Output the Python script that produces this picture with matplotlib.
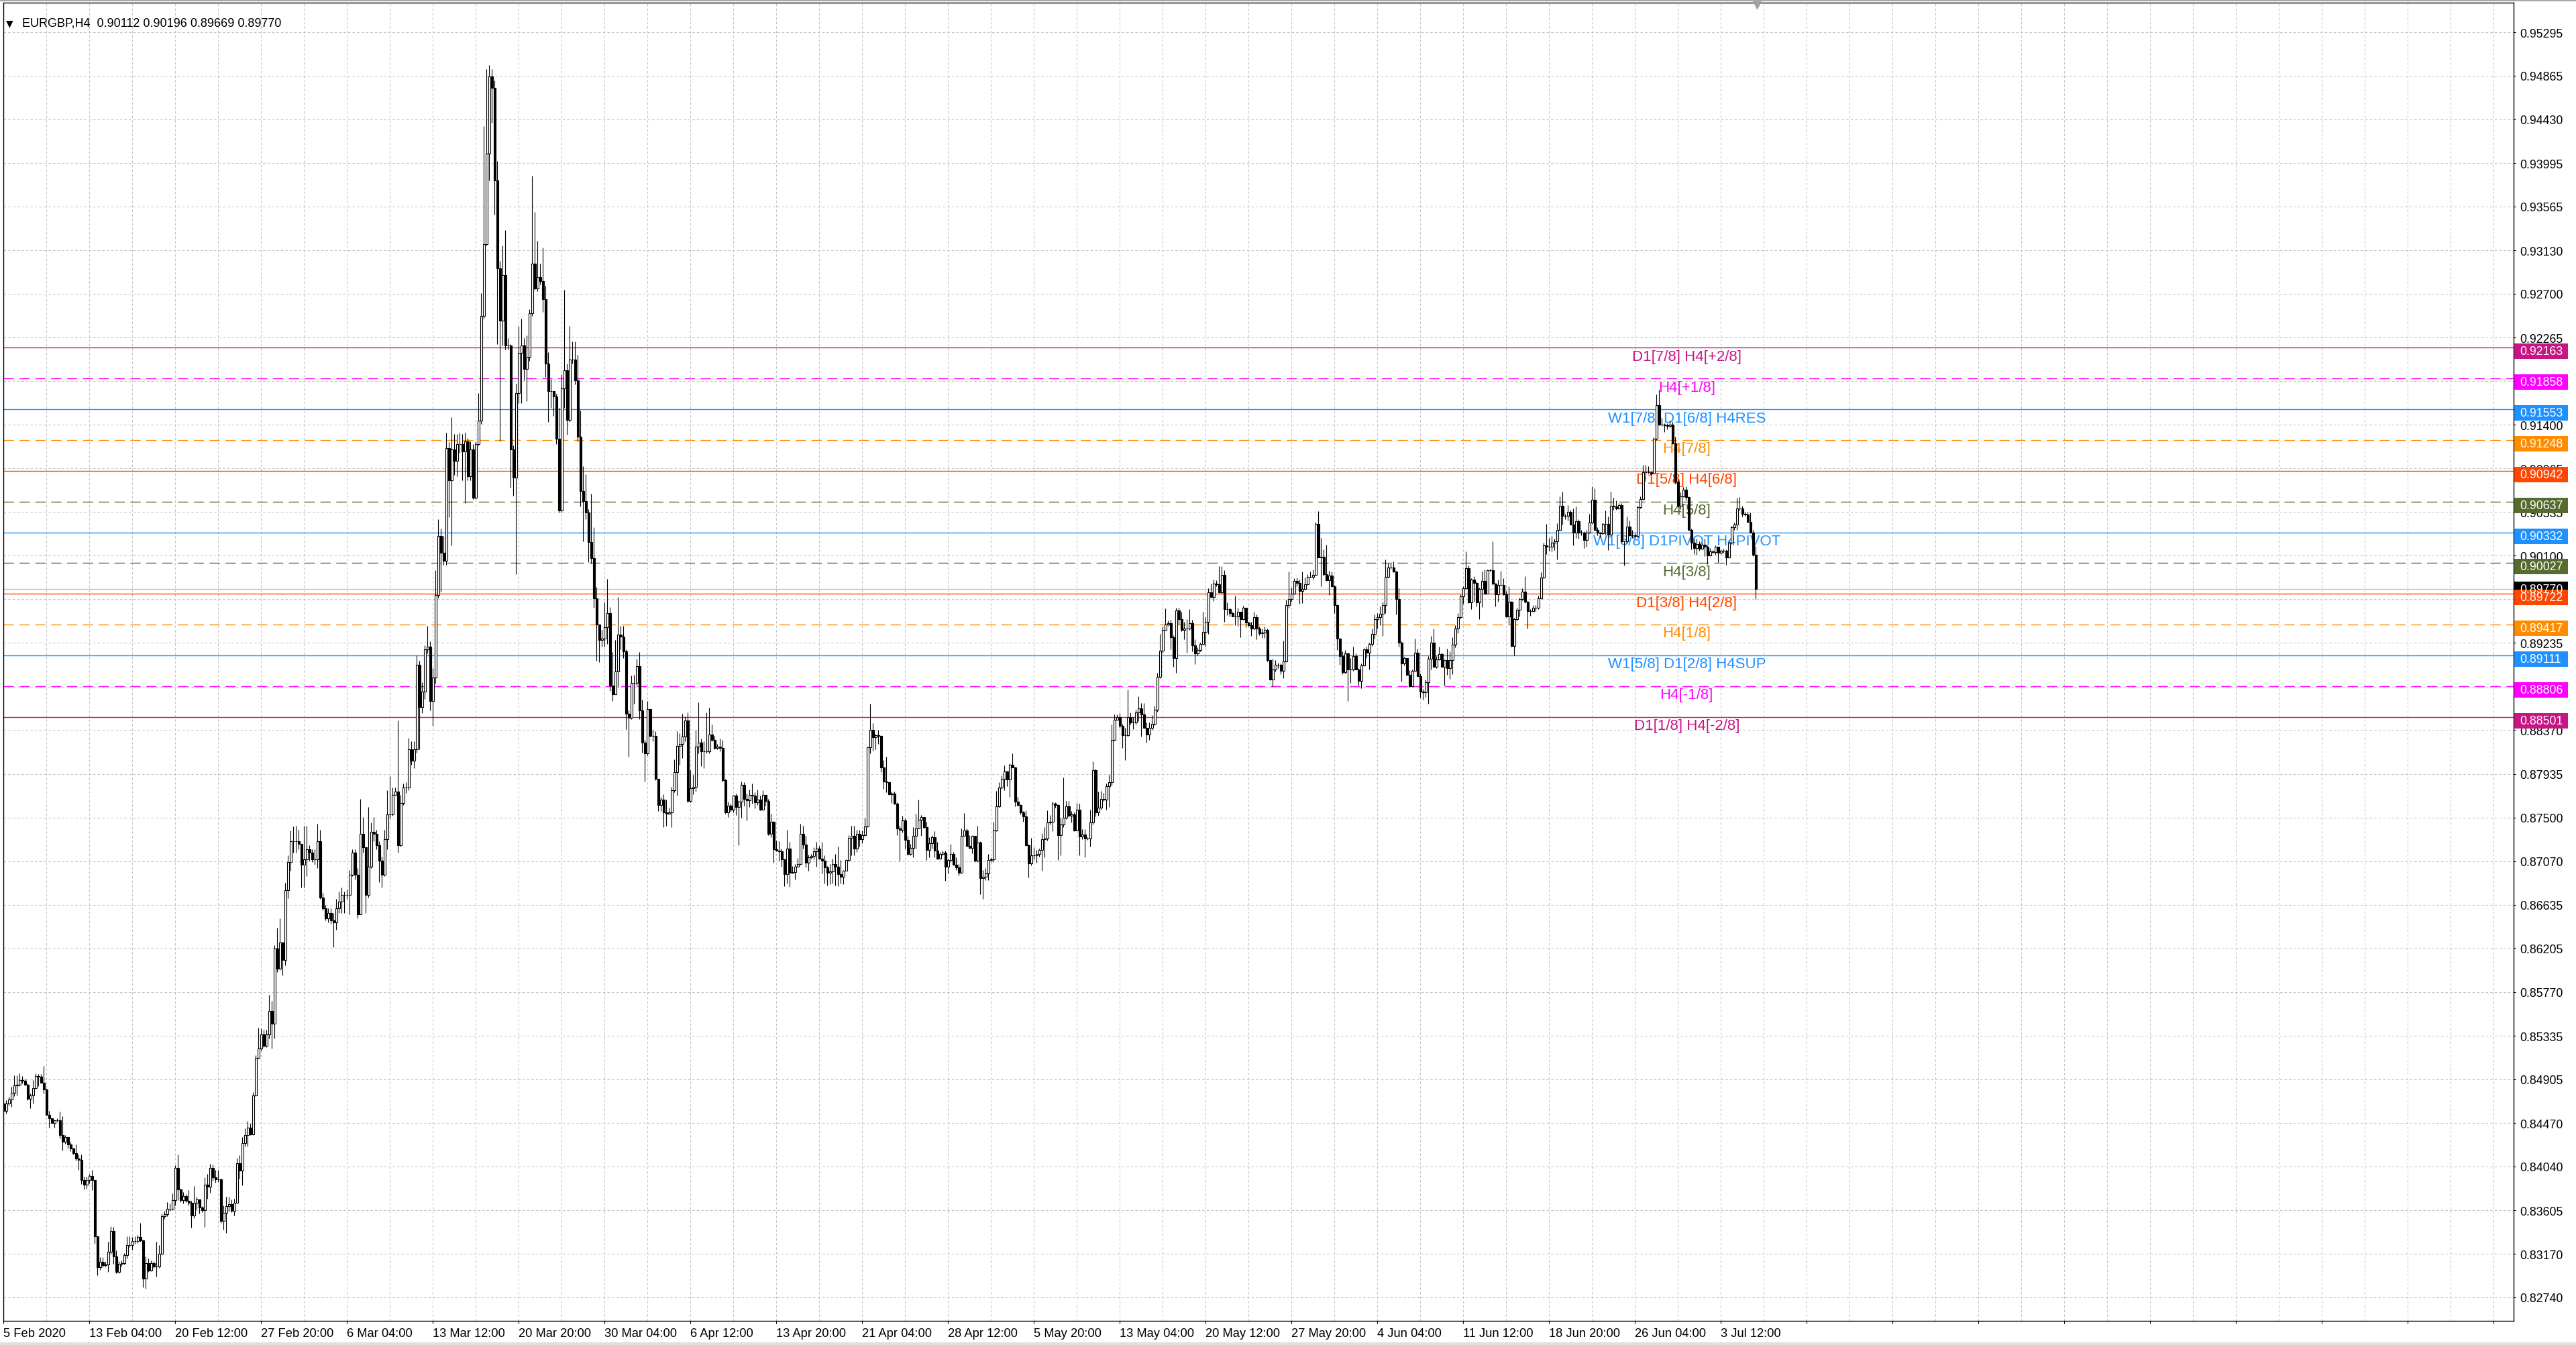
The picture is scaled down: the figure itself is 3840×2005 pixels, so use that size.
import numpy as np
import matplotlib
matplotlib.use("Agg")
import matplotlib.pyplot as plt
from matplotlib import font_manager
from matplotlib.patches import Rectangle
from matplotlib.transforms import blended_transform_factory

# EURGBP H4 candles (open = previous close)
header = "EURGBP,H4  0.90112 0.90196 0.89669 0.89770"
first_open = 0.84664

closes = [
    0.84591, 0.84664, 0.84703, 0.84770, 0.84846, 0.84852, 0.84895, 0.84889, 0.84852, 0.84713,
    0.84746, 0.84819, 0.84935, 0.84928, 0.84872, 0.84806, 0.84554, 0.84515, 0.84472, 0.84498,
    0.84498, 0.84349, 0.84283, 0.84333, 0.84257, 0.84217, 0.84174, 0.84118, 0.84108, 0.83902,
    0.83859, 0.83902, 0.83942, 0.83902, 0.83346, 0.83042, 0.83091, 0.83058, 0.83068, 0.83191,
    0.83399, 0.83148, 0.82992, 0.83075, 0.83082, 0.83158, 0.83257, 0.83257, 0.83297, 0.83300,
    0.83340, 0.83307, 0.82926, 0.83082, 0.83009, 0.83082, 0.83048, 0.83048, 0.83174, 0.83545,
    0.83565, 0.83621, 0.83621, 0.83704, 0.84028, 0.83813, 0.83704, 0.83743, 0.83697, 0.83677,
    0.83555, 0.83677, 0.83710, 0.83631, 0.83604, 0.83859, 0.83836, 0.84025, 0.83929, 0.83909,
    0.83909, 0.83498, 0.83578, 0.83644, 0.83664, 0.83598, 0.83680, 0.84074, 0.83995, 0.84273,
    0.84349, 0.84422, 0.84356, 0.84743, 0.85117, 0.85210, 0.85352, 0.85236, 0.85349, 0.85584,
    0.85458, 0.86203, 0.86004, 0.86259, 0.86087, 0.86782, 0.87063, 0.87269, 0.87269,
    0.87265, 0.87242, 0.87036, 0.87090, 0.87189, 0.87151, 0.87090, 0.87090, 0.87265, 0.86708, 0.86602,
    0.86502, 0.86556, 0.86480, 0.86464, 0.86602, 0.86670, 0.86731, 0.86731, 0.86731, 0.86937,
    0.87151, 0.86937, 0.86541, 0.87342, 0.87204, 0.86731, 0.87014, 0.87357, 0.87342, 0.87227,
    0.87075, 0.86937, 0.87288, 0.87532, 0.87532, 0.87723, 0.87761, 0.87227, 0.87647, 0.87799,
    0.87799, 0.88181, 0.88066, 0.88181, 0.89020, 0.88600, 0.88753, 0.89173, 0.89195, 0.88661,
    0.88890, 0.89707, 0.90294, 0.90126, 0.90050, 0.91171, 0.90851, 0.91156, 0.91042, 0.91209,
    0.91209, 0.91133, 0.91232, 0.90889, 0.91156, 0.90675, 0.91209, 0.91438, 0.92476, 0.93193,
    0.94093, 0.94856, 0.94742, 0.93826, 0.92949, 0.92430, 0.92888, 0.92186, 0.92186, 0.91156,
    0.90874, 0.91713, 0.92110,
    0.92185, 0.91953, 0.92075, 0.92505, 0.93001, 0.92753, 0.92863,
    0.92825, 0.92643, 0.92009, 0.91733, 0.91733, 0.91678, 0.91264, 0.90547, 0.91760, 0.91942,
    0.91446, 0.92047, 0.92047, 0.91843, 0.91281, 0.90740, 0.90641, 0.90531, 0.90233, 0.90078,
    0.89676, 0.89417, 0.89262, 0.89279, 0.89389, 0.89527, 0.88810, 0.88727, 0.88948, 0.89317,
    0.89295, 0.89152, 0.88534, 0.88490, 0.88837, 0.88837, 0.89003, 0.88562, 0.88247, 0.88137,
    0.88578, 0.88314, 0.88314, 0.87883, 0.87624, 0.87679, 0.87552, 0.87541, 0.87552, 0.87773,
    0.87955, 0.88214, 0.88231, 0.88303, 0.88468, 0.87663, 0.87790, 0.87806, 0.88203, 0.88247,
    0.88159, 0.88159, 0.88159, 0.88325, 0.88270, 0.88192, 0.88203, 0.88192, 0.87872,
    0.87555, 0.87617, 0.87577, 0.87717, 0.87606, 0.87657, 0.87829, 0.87684, 0.87673, 0.87728, 0.87717,
    0.87651, 0.87679, 0.87577, 0.87728, 0.87666, 0.87339, 0.87461, 0.87190, 0.87172, 0.87167,
    0.87087, 0.86938, 0.87194, 0.86954, 0.86960, 0.87016, 0.87043, 0.87339, 0.87234, 0.87056,
    0.87110, 0.87123, 0.87167, 0.87194, 0.87094, 0.87072, 0.87005, 0.86954, 0.86967, 0.87038,
    0.87012, 0.86938, 0.86916, 0.86976, 0.87083, 0.87301, 0.87317, 0.87194, 0.87339, 0.87288,
    0.87328, 0.87412, 0.88200, 0.88374, 0.88296, 0.88318, 0.88312, 0.88000, 0.87862, 0.87851,
    0.87733, 0.87740, 0.87639, 0.87395, 0.87377, 0.87472, 0.87279, 0.87139, 0.87199, 0.87323,
    0.87395, 0.87479, 0.87506, 0.87406, 0.87183, 0.87250, 0.87310, 0.87176, 0.87094, 0.87139,
    0.87154, 0.87012, 0.87078, 0.87139, 0.87034, 0.87005, 0.86954, 0.87323, 0.87372, 0.87221,
    0.87199, 0.87317, 0.87072, 0.87256, 0.86900, 0.86916, 0.86949, 0.87083, 0.87087,
    0.87372, 0.87615, 0.87799, 0.87886, 0.87957, 0.87878, 0.88028, 0.88001, 0.87660, 0.87623, 0.87550,
    0.87510, 0.87229, 0.87045, 0.87129, 0.87129, 0.87142, 0.87182, 0.87287, 0.87292, 0.87450,
    0.87458, 0.87642, 0.87623, 0.87326, 0.87431, 0.87502, 0.87615, 0.87523, 0.87536, 0.87371,
    0.87581, 0.87313, 0.87334, 0.87292, 0.87292, 0.87450, 0.87975, 0.87550, 0.87597, 0.87686,
    0.87681, 0.87812, 0.87852, 0.88272, 0.88474, 0.88495, 0.88411, 0.88317, 0.88317, 0.88501,
    0.88448, 0.88448, 0.88543, 0.88587, 0.88522, 0.88390, 0.88325, 0.88390, 0.88430, 0.88569,
    0.88895, 0.89157, 0.89367, 0.89420, 0.89428, 0.89289, 0.89086, 0.89559, 0.89473, 0.89362,
    0.89375, 0.89375, 0.89428, 0.89210, 0.89131, 0.89165, 0.89226, 0.89341, 0.89441, 0.89735,
    0.89691, 0.89822, 0.89814, 0.89735, 0.89909, 0.89567, 0.89567, 0.89533, 0.89499, 0.89494,
    0.89541, 0.89467, 0.89586, 0.89436, 0.89410, 0.89375, 0.89488, 0.89375, 0.89331,
    0.89340, 0.89362, 0.89063, 0.88874, 0.88969, 0.89018, 0.89018, 0.88956, 0.89052, 0.89613, 0.89667,
    0.89724, 0.89851, 0.89829, 0.89747, 0.89769, 0.89818, 0.89889, 0.89889, 0.89911, 0.90413,
    0.90084, 0.90089, 0.89918, 0.89858, 0.89906, 0.89795, 0.89607, 0.89280, 0.89107, 0.88941,
    0.89134, 0.88974, 0.88969, 0.89103, 0.88974, 0.88858, 0.89014, 0.89169, 0.89140, 0.89223,
    0.89325, 0.89473, 0.89489, 0.89525, 0.89613, 0.89889, 0.89984, 0.89984, 0.89946, 0.89667,
    0.89240, 0.89029, 0.89085, 0.88918, 0.88807, 0.88956, 0.89140, 0.88907, 0.88752, 0.88747,
    0.88845, 0.89080, 0.89240, 0.88996, 0.89074, 0.89125, 0.89000, 0.89067, 0.88985, 0.89063,
    0.89214, 0.89374, 0.89489, 0.89696, 0.89778, 0.89977, 0.89636, 0.89866, 0.89829, 0.89636,
    0.89773, 0.89851, 0.89724, 0.89955, 0.89955, 0.89822, 0.89718, 0.89813, 0.89813, 0.89718,
    0.89496, 0.89644, 0.89207, 0.89467, 0.89562, 0.89667, 0.89740, 0.89640, 0.89547,
    0.89547, 0.89581, 0.89581, 0.89679, 0.89884, 0.90200, 0.90187, 0.90187, 0.90227, 0.90240, 0.90358,
    0.90596, 0.90495, 0.90495, 0.90538, 0.90411, 0.90327, 0.90443, 0.90327, 0.90332, 0.90258,
    0.90327, 0.90432, 0.90654, 0.90358, 0.90327, 0.90319, 0.90416, 0.90416, 0.90306, 0.90596,
    0.90590, 0.90569, 0.90601, 0.90240, 0.90240, 0.90390, 0.90300, 0.90300, 0.90293, 0.90582,
    0.90661, 0.90925, 0.90925, 0.90925, 0.90917, 0.91259, 0.91597, 0.91399, 0.91399, 0.91391,
    0.91386, 0.91399, 0.91215, 0.90833, 0.90596, 0.90688, 0.90754, 0.90680, 0.90358, 0.90227,
    0.90179, 0.90214, 0.90169, 0.90206, 0.90187, 0.90100, 0.90143, 0.90135, 0.90187, 0.90127,
    0.90148, 0.90148, 0.90082, 0.90227, 0.90385, 0.90411, 0.90569, 0.90569, 0.90517, 0.90511,
    0.90438, 0.90327, 0.90108, 0.89770,
]

highs = [
    0.84680, 0.84697, 0.84730, 0.84829, 0.84945, 0.84945, 0.84966, 0.84935, 0.84909, 0.84862,
    0.84763, 0.84895, 0.84966, 0.84960, 0.84954, 0.85038, 0.84812, 0.84591, 0.84515, 0.84505,
    0.84515, 0.84581, 0.84538, 0.84349, 0.84333, 0.84283, 0.84227, 0.84260, 0.84161, 0.84161,
    0.83935, 0.83935, 0.83968, 0.84002, 0.83902, 0.83346, 0.83141, 0.83141, 0.83091, 0.83290,
    0.83446, 0.83439, 0.83207, 0.83101, 0.83108, 0.83181, 0.83346, 0.83346, 0.83340, 0.83346,
    0.83356, 0.83479, 0.83313, 0.83148, 0.83124, 0.83108, 0.83101, 0.83290, 0.83257, 0.83571,
    0.83598, 0.83687, 0.83671, 0.83770, 0.84051, 0.84161, 0.83820, 0.83786, 0.83763, 0.83803,
    0.83697, 0.83846, 0.83737, 0.83671, 0.83644, 0.83929, 0.83968, 0.84068, 0.84061, 0.84002,
    0.84002, 0.83919, 0.83654, 0.83737, 0.83737, 0.83710, 0.83720, 0.84124, 0.84151, 0.84333,
    0.84415, 0.84488, 0.84465, 0.84779, 0.85143, 0.85415, 0.85408, 0.85398, 0.85398, 0.85739,
    0.85683, 0.86236, 0.86408, 0.86501, 0.86269, 0.86855, 0.87130, 0.87371, 0.87411,
    0.87418, 0.87380, 0.87227, 0.87418, 0.87418, 0.87227, 0.87189, 0.87189, 0.87441, 0.87380, 0.86754,
    0.86632, 0.86602, 0.86602, 0.86556, 0.86693, 0.86769, 0.86808, 0.86769, 0.86785, 0.86983,
    0.87189, 0.87189, 0.86998, 0.87685, 0.87509, 0.87204, 0.87609, 0.87456, 0.87509, 0.87380,
    0.87265, 0.87113, 0.87380, 0.87776, 0.87914, 0.87799, 0.87799, 0.88463, 0.87723, 0.87837,
    0.87853, 0.88295, 0.88257, 0.88257, 0.89111, 0.89058, 0.88844, 0.89211, 0.89401, 0.89249,
    0.88982, 0.89958, 0.90462, 0.90370, 0.90294, 0.91324, 0.91225, 0.91476, 0.91309, 0.91309,
    0.91324, 0.91309, 0.91324, 0.91270, 0.91232, 0.91209, 0.91232, 0.91713, 0.92705, 0.94360,
    0.94932, 0.94971, 0.94932, 0.94818, 0.94017, 0.93025, 0.93178, 0.93330, 0.92262, 0.92201,
    0.91194, 0.91805, 0.92377,
    0.92450, 0.92257, 0.92284, 0.92549, 0.93873, 0.93509, 0.93222,
    0.93001, 0.93156, 0.92781, 0.92119, 0.91854, 0.91705, 0.91705, 0.91567, 0.91898, 0.92737,
    0.92009, 0.92378, 0.92229, 0.92229, 0.92091, 0.91540, 0.90988, 0.90906, 0.90564, 0.90713,
    0.90382, 0.89792, 0.89417, 0.89361, 0.89637, 0.89869, 0.89593, 0.89141, 0.89262, 0.89692,
    0.89406, 0.89406, 0.89168, 0.88562, 0.88909, 0.88920, 0.89075, 0.89141, 0.88672, 0.88269,
    0.88655, 0.88578, 0.88369, 0.88358, 0.87883, 0.87707, 0.87734, 0.87679, 0.87597, 0.87806,
    0.88082, 0.88358, 0.88341, 0.88534, 0.88507, 0.88545, 0.87972, 0.87927, 0.88369, 0.88644,
    0.88286, 0.88258, 0.88545, 0.88589, 0.88424, 0.88314, 0.88231, 0.88286, 0.88269,
    0.87884, 0.87662, 0.87639, 0.87728, 0.87740, 0.87673, 0.87858, 0.87851, 0.87740, 0.87777, 0.87840,
    0.87755, 0.87777, 0.87717, 0.87773, 0.87711, 0.87684, 0.87539, 0.87466, 0.87272, 0.87265,
    0.87194, 0.87094, 0.87377, 0.87257, 0.87021, 0.87038, 0.87101, 0.87443, 0.87417, 0.87317,
    0.87132, 0.87139, 0.87205, 0.87261, 0.87221, 0.87261, 0.87127, 0.87021, 0.87043, 0.87094,
    0.87139, 0.87212, 0.87083, 0.86983, 0.87087, 0.87328, 0.87417, 0.87417, 0.87383, 0.87377,
    0.87372, 0.87501, 0.88207, 0.88630, 0.88436, 0.88329, 0.88374, 0.88318, 0.88073, 0.88107,
    0.87862, 0.87762, 0.87762, 0.87651, 0.87417, 0.87517, 0.87495, 0.87317, 0.87239, 0.87406,
    0.87539, 0.87679, 0.87528, 0.87488, 0.87461, 0.87305, 0.87328, 0.87368, 0.87261, 0.87161,
    0.87176, 0.87176, 0.87094, 0.87239, 0.87161, 0.87110, 0.87038, 0.87390, 0.87546, 0.87390,
    0.87328, 0.87328, 0.87272, 0.87417, 0.87265, 0.86983, 0.86998, 0.87139, 0.87105,
    0.87457, 0.87765, 0.87852, 0.87917, 0.88022, 0.87965, 0.88036, 0.88141, 0.88009, 0.87707, 0.87634,
    0.87563, 0.87576, 0.87240, 0.87300, 0.87208, 0.87182, 0.87195, 0.87345, 0.87405, 0.87571,
    0.87529, 0.87660, 0.87655, 0.87634, 0.87502, 0.87896, 0.87668, 0.87668, 0.87563, 0.87550,
    0.87649, 0.87642, 0.87387, 0.87387, 0.87308, 0.87581, 0.88062, 0.87983, 0.87760, 0.87765,
    0.87747, 0.87839, 0.87923, 0.88422, 0.88522, 0.88527, 0.88535, 0.88430, 0.88390, 0.88771,
    0.88543, 0.88495, 0.88574, 0.88705, 0.88640, 0.88640, 0.88443, 0.88448, 0.88516, 0.88614,
    0.88937, 0.89323, 0.89394, 0.89578, 0.89454, 0.89462, 0.89310, 0.89586, 0.89586, 0.89546,
    0.89441, 0.89467, 0.89572, 0.89462, 0.89270, 0.89191, 0.89236, 0.89546, 0.89488, 0.89777,
    0.89822, 0.89861, 0.89856, 0.89993, 0.89993, 0.89953, 0.89638, 0.89586, 0.89546, 0.89704,
    0.89586, 0.89546, 0.89604, 0.89454, 0.89446, 0.89446, 0.89546, 0.89520, 0.89394,
    0.89374, 0.89396, 0.89374, 0.89074, 0.89080, 0.89063, 0.89036, 0.89029, 0.89258, 0.89662, 0.89940,
    0.89784, 0.89873, 0.89884, 0.89862, 0.89940, 0.89884, 0.89918, 0.89940, 0.89962, 0.90435,
    0.90539, 0.90273, 0.90162, 0.90206, 0.89951, 0.89940, 0.89807, 0.89618, 0.89285, 0.89151,
    0.89163, 0.89140, 0.89085, 0.89196, 0.89129, 0.88985, 0.89029, 0.89185, 0.89196, 0.89240,
    0.89378, 0.89518, 0.89529, 0.89596, 0.89640, 0.90062, 0.90022, 0.90022, 0.90040, 0.89951,
    0.89778, 0.89251, 0.89096, 0.89063, 0.88963, 0.88974, 0.89280, 0.89174, 0.88929, 0.88778,
    0.88874, 0.89107, 0.89307, 0.89378, 0.89103, 0.89196, 0.89140, 0.89074, 0.89174, 0.89151,
    0.89289, 0.89407, 0.89529, 0.89718, 0.89795, 0.90140, 0.90006, 0.89873, 0.89895, 0.89844,
    0.89784, 0.89940, 0.89962, 0.89962, 0.89969, 0.90244, 0.89829, 0.89862, 0.89951, 0.89873,
    0.89751, 0.89795, 0.89651, 0.89485, 0.89584, 0.89684, 0.89778, 0.89895, 0.89651,
    0.89568, 0.89608, 0.89608, 0.89700, 0.89937, 0.90227, 0.90416, 0.90279, 0.90293, 0.90266, 0.90424,
    0.90688, 0.90733, 0.90517, 0.90601, 0.90556, 0.90569, 0.90590, 0.90464, 0.90353, 0.90345,
    0.90358, 0.90517, 0.90785, 0.90767, 0.90385, 0.90337, 0.90432, 0.90548, 0.90490, 0.90733,
    0.90675, 0.90648, 0.90622, 0.90622, 0.90248, 0.90490, 0.90451, 0.90358, 0.90319, 0.90596,
    0.90688, 0.91004, 0.91004, 0.90991, 0.90938, 0.91275, 0.91702, 0.91749, 0.91465, 0.91412,
    0.91412, 0.91439, 0.91425, 0.91281, 0.90864, 0.90727, 0.90780, 0.90785, 0.90688, 0.90372,
    0.90266, 0.90266, 0.90240, 0.90227, 0.90266, 0.90200, 0.90174, 0.90153, 0.90200, 0.90187,
    0.90161, 0.90169, 0.90161, 0.90258, 0.90398, 0.90432, 0.90675, 0.90680, 0.90596, 0.90538,
    0.90538, 0.90530, 0.90358, 0.90196,
]

lows = [
    0.84571, 0.84564, 0.84647, 0.84631, 0.84736, 0.84746, 0.84836, 0.84862, 0.84842, 0.84697,
    0.84614, 0.84664, 0.84812, 0.84836, 0.84862, 0.84763, 0.84548, 0.84422, 0.84465, 0.84425,
    0.84482, 0.84316, 0.84200, 0.84266, 0.84217, 0.84194, 0.84161, 0.84101, 0.84002, 0.83863,
    0.83813, 0.83820, 0.83869, 0.83803, 0.83273, 0.82959, 0.83015, 0.83042, 0.83048, 0.82992,
    0.83174, 0.83075, 0.82982, 0.82982, 0.83048, 0.83068, 0.83124, 0.83240, 0.83214, 0.83273,
    0.83280, 0.83290, 0.82843, 0.82827, 0.82992, 0.83002, 0.83035, 0.82949, 0.83035, 0.83168,
    0.83522, 0.83545, 0.83598, 0.83604, 0.83654, 0.83704, 0.83687, 0.83671, 0.83684, 0.83654,
    0.83429, 0.83528, 0.83611, 0.83571, 0.83588, 0.83439, 0.83720, 0.83777, 0.83896, 0.83876,
    0.83886, 0.83479, 0.83412, 0.83379, 0.83598, 0.83588, 0.83555, 0.83671, 0.83919, 0.83853,
    0.84240, 0.84240, 0.84349, 0.84349, 0.84736, 0.85110, 0.85193, 0.85226, 0.85226, 0.85309,
    0.85210, 0.85309, 0.85971, 0.85988, 0.85938, 0.86037, 0.86699, 0.86974, 0.87153,
    0.87151, 0.87189, 0.86808, 0.86808, 0.86922, 0.87075, 0.87059, 0.87036, 0.86998, 0.86693, 0.86579,
    0.86480, 0.86464, 0.86449, 0.86212, 0.86388, 0.86556, 0.86556, 0.86556, 0.86693, 0.86541,
    0.86922, 0.86884, 0.86502, 0.86556, 0.87151, 0.86556, 0.86708, 0.86998, 0.87265, 0.87189,
    0.86861, 0.86808, 0.86922, 0.87189, 0.87494, 0.87517, 0.87723, 0.87151, 0.87212, 0.87624,
    0.87746, 0.87776, 0.88028, 0.87990, 0.88143, 0.88181, 0.88539, 0.88677, 0.89134, 0.88562,
    0.88410, 0.88829, 0.89684, 0.89745, 0.90012, 0.90012, 0.90485, 0.90202, 0.90904, 0.90889,
    0.91118, 0.90851, 0.90622, 0.90851, 0.90851, 0.90660, 0.90660, 0.91194, 0.91408, 0.92453,
    0.93178, 0.93826, 0.94398, 0.93483, 0.92201, 0.91232, 0.92186, 0.92148, 0.92148, 0.90775,
    0.90698, 0.89913, 0.91614,
    0.91612, 0.91843, 0.91634, 0.92036, 0.92477, 0.92737, 0.92726,
    0.92792, 0.92516, 0.91871, 0.91430, 0.91567, 0.91485, 0.91209, 0.90531, 0.90531, 0.91567,
    0.91303, 0.91430, 0.92009, 0.91799, 0.91236, 0.90586, 0.90244, 0.90464, 0.90034, 0.90023,
    0.89582, 0.89058, 0.89042, 0.89196, 0.89196, 0.89224, 0.88755, 0.88655, 0.88865, 0.88799,
    0.89168, 0.89086, 0.88380, 0.88104, 0.88479, 0.88633, 0.88810, 0.88479, 0.88148, 0.87861,
    0.88121, 0.88303, 0.88258, 0.87872, 0.87569, 0.87569, 0.87404, 0.87420, 0.87530, 0.87404,
    0.87751, 0.87718, 0.88027, 0.88093, 0.88258, 0.87652, 0.87652, 0.87734, 0.87762, 0.88137,
    0.88010, 0.87994, 0.88137, 0.88137, 0.88258, 0.88176, 0.88176, 0.88159, 0.87861,
    0.87539, 0.87506, 0.87561, 0.87550, 0.87528, 0.87228, 0.87501, 0.87617, 0.87472, 0.87606, 0.87639,
    0.87595, 0.87628, 0.87573, 0.87644, 0.87617, 0.87328, 0.87310, 0.87056, 0.87167, 0.87072,
    0.87016, 0.86820, 0.86849, 0.86811, 0.86945, 0.86887, 0.87012, 0.87034, 0.87194, 0.87005,
    0.86976, 0.87094, 0.87087, 0.87016, 0.87087, 0.86949, 0.86849, 0.86827, 0.86838, 0.86849,
    0.86827, 0.86820, 0.86849, 0.86842, 0.86972, 0.87065, 0.87127, 0.87127, 0.87161, 0.87216,
    0.87250, 0.87317, 0.87406, 0.88140, 0.88163, 0.88178, 0.88229, 0.87955, 0.87784, 0.87751,
    0.87728, 0.87644, 0.87635, 0.87328, 0.87072, 0.87354, 0.87194, 0.87127, 0.87127, 0.87110,
    0.87194, 0.87390, 0.87323, 0.87395, 0.87083, 0.87105, 0.87194, 0.87105, 0.87087, 0.87087,
    0.87127, 0.86871, 0.86949, 0.87061, 0.87027, 0.86983, 0.86927, 0.86949, 0.87317, 0.87216,
    0.87194, 0.87150, 0.87061, 0.87061, 0.86738, 0.86693, 0.86883, 0.86883, 0.87061,
    0.87061, 0.87366, 0.87602, 0.87786, 0.87773, 0.87812, 0.87707, 0.87996, 0.87615, 0.87615, 0.87536,
    0.87458, 0.87221, 0.86906, 0.87029, 0.87090, 0.87056, 0.87116, 0.86977, 0.87108, 0.87274,
    0.87431, 0.87366, 0.87602, 0.87082, 0.87129, 0.87405, 0.87484, 0.87510, 0.87450, 0.87366,
    0.87405, 0.87124, 0.87287, 0.87108, 0.87282, 0.87213, 0.87431, 0.87510, 0.87523, 0.87581,
    0.87668, 0.87581, 0.87607, 0.87818, 0.88264, 0.88469, 0.88390, 0.88193, 0.88070, 0.88306,
    0.88422, 0.88377, 0.88422, 0.88456, 0.88306, 0.88385, 0.88246, 0.88272, 0.88369, 0.88417,
    0.88553, 0.88884, 0.89139, 0.89362, 0.89402, 0.89173, 0.89000, 0.88937, 0.89415, 0.89349,
    0.89270, 0.89139, 0.89367, 0.89152, 0.89021, 0.89113, 0.89152, 0.89218, 0.89199, 0.89323,
    0.89683, 0.89651, 0.89796, 0.89730, 0.89725, 0.89446, 0.89507, 0.89494, 0.89494, 0.89410,
    0.89402, 0.89289, 0.89462, 0.89388, 0.89394, 0.89304, 0.89362, 0.89270, 0.89310,
    0.89285, 0.89285, 0.89052, 0.88863, 0.88801, 0.88952, 0.88985, 0.88925, 0.88885, 0.89045, 0.89584,
    0.89640, 0.89718, 0.89795, 0.89622, 0.89629, 0.89762, 0.89813, 0.89880, 0.89862, 0.89906,
    0.90080, 0.89795, 0.89906, 0.89851, 0.89707, 0.89791, 0.89533, 0.89163, 0.89018, 0.88925,
    0.88929, 0.88659, 0.88841, 0.88956, 0.88969, 0.88814, 0.88785, 0.89007, 0.89085, 0.88969,
    0.89207, 0.89274, 0.89374, 0.89407, 0.89307, 0.89529, 0.89880, 0.89969, 0.89933, 0.89518,
    0.89196, 0.88852, 0.89014, 0.88912, 0.88801, 0.88801, 0.88952, 0.88903, 0.88690, 0.88674,
    0.88696, 0.88630, 0.88974, 0.88992, 0.88985, 0.89063, 0.88992, 0.88814, 0.88918, 0.88881,
    0.88925, 0.89191, 0.89329, 0.89480, 0.89622, 0.89769, 0.89629, 0.89573, 0.89640, 0.89596,
    0.89473, 0.89591, 0.89718, 0.89724, 0.89946, 0.89807, 0.89600, 0.89640, 0.89800, 0.89711,
    0.89489, 0.89418, 0.89196, 0.89112, 0.89458, 0.89496, 0.89658, 0.89629, 0.89378,
    0.89502, 0.89542, 0.89547, 0.89568, 0.89673, 0.89879, 0.90116, 0.90148, 0.90142, 0.90153, 0.90063,
    0.90353, 0.90406, 0.90464, 0.90451, 0.90406, 0.90200, 0.90279, 0.90266, 0.90300, 0.90179,
    0.90187, 0.90319, 0.90416, 0.90353, 0.90300, 0.90285, 0.90306, 0.90306, 0.90153, 0.90300,
    0.90556, 0.90556, 0.90564, 0.90232, 0.90003, 0.90221, 0.90293, 0.90279, 0.90279, 0.90285,
    0.90569, 0.90654, 0.90899, 0.90912, 0.90899, 0.90912, 0.91249, 0.91391, 0.91386, 0.91328,
    0.91354, 0.91373, 0.91207, 0.90812, 0.90582, 0.90564, 0.90680, 0.90648, 0.90353, 0.90161,
    0.90116, 0.90108, 0.90148, 0.90161, 0.90095, 0.90016, 0.90095, 0.90121, 0.90108, 0.90037,
    0.90116, 0.90127, 0.90011, 0.90074, 0.90214, 0.90358, 0.90358, 0.90548, 0.90490, 0.90495,
    0.90432, 0.90327, 0.90095, 0.89669,
]

time_labels = ["5 Feb 2020", "13 Feb 04:00", "20 Feb 12:00", "27 Feb 20:00", "6 Mar 04:00",
               "13 Mar 12:00", "20 Mar 20:00", "30 Mar 04:00", "6 Apr 12:00", "13 Apr 20:00",
               "21 Apr 04:00", "28 Apr 12:00", "5 May 20:00", "13 May 04:00", "20 May 12:00",
               "27 May 20:00", "4 Jun 04:00", "11 Jun 12:00", "18 Jun 20:00", "26 Jun 04:00",
               "3 Jul 12:00"]

price_ticks = [0.95295, 0.94865, 0.94430, 0.93995, 0.93565, 0.93130, 0.92700, 0.92265,
               0.91835, 0.91400, 0.90965, 0.90535, 0.90100, 0.89670, 0.89235, 0.88800,
               0.88370, 0.87935, 0.87500, 0.87070, 0.86635, 0.86205, 0.85770, 0.85335,
               0.84905, 0.84470, 0.84040, 0.83605, 0.83170, 0.82740]

# Murrey-math style levels drawn by the indicator
level_prices = [0.92163, 0.91858, 0.91553, 0.91248, 0.90942, 0.90637, 0.90332,
                0.90027, 0.89722, 0.89417, 0.89111, 0.88806, 0.88501]
level_names = ["D1[7/8] H4[+2/8]", "H4[+1/8]", "W1[7/8] D1[6/8] H4RES", "H4[7/8]",
               "D1[5/8] H4[6/8]", "H4[5/8]", "W1[6/8] D1PIVOT H4PIVOT", "H4[3/8]",
               "D1[3/8] H4[2/8]", "H4[1/8]", "W1[5/8] D1[2/8] H4SUP", "H4[-1/8]",
               "D1[1/8] H4[-2/8]"]
level_colors = ["#C71585", "#FF00FF", "#1E90FF", "#FF8C00", "#FF4500", "#556B2F", "#1E90FF",
                "#556B2F", "#FF4500", "#FF8C00", "#1E90FF", "#FF00FF", "#C71585"]
level_dashed = [False, True, False, True, False, True, False, True, False, True, False, True, False]
current_price = 0.89770

# ---- fonts ----
installed = {f.name for f in font_manager.fontManager.ttflist}
if "Liberation Sans Narrow" in installed:
    scale_font, y_size, x_size, head_size = "Liberation Sans Narrow", 15.5, 16, 16
else:
    scale_font, y_size, x_size, head_size = "Liberation Sans", 12.8, 13.2, 13
label_font = "Liberation Sans"
plt.rcParams["lines.scale_dashes"] = False

# ---- figure / axes in pixel terms of the screenshot ----
W, H = 3840, 2006
left_px, right_px, top_px, bottom_px = 5, 3747, 5, 1970
bar_px, first_bar_px = 4.0, 5.3

fig = plt.figure(figsize=(W / 100, H / 100), dpi=100, facecolor="white")
ax = fig.add_axes([left_px / W, 1 - bottom_px / H, (right_px - left_px) / W, (bottom_px - top_px) / H])
ax.set_facecolor("white")
x0 = (left_px - first_bar_px) / bar_px
x1 = (right_px - first_bar_px) / bar_px
ax.set_xlim(x0, x1)
ax.set_ylim(0.82507, 0.95588)
y_per_px = (0.95588 - 0.82507) / (bottom_px - top_px)

# grid and axes
ax.set_yticks(price_ticks)
ax.set_yticklabels([f"{p:.5f}" for p in price_ticks], fontfamily=scale_font)
ax.yaxis.tick_right()
ax.tick_params(axis="y", length=2.2, width=0.8, pad=4.3, labelsize=y_size)

major = np.arange(0, x1, 32)
ax.set_xticks(major)
ax.set_xticklabels(time_labels + [""] * (len(major) - len(time_labels)),
                   ha="left", fontfamily=scale_font)
ax.set_xticks(np.arange(16, x1, 32), minor=True)
ax.tick_params(axis="x", which="major", length=3.0, width=0.8, pad=4.5, labelsize=x_size)
ax.tick_params(axis="x", which="minor", length=0)
ax.grid(which="both", color="#c4c4c4", linestyle=(0, (2.6, 2.2)), linewidth=0.75, zorder=0)
ax.set_axisbelow(True)
for s in ax.spines.values():
    s.set_color("black")
    s.set_linewidth(1.0)

# level lines and their names
label_x = 627.25
for p, name, c, dashed in zip(level_prices, level_names, level_colors, level_dashed):
    ax.axhline(p, color=c, lw=1.0, linestyle=(0, (11, 6)) if dashed else "-", zorder=2)
    ax.text(label_x, p - 2.5 * y_per_px, name, ha="center", va="top", color=c,
            fontsize=16, family=label_font, zorder=3)
ax.axhline(current_price, color="#c0c0c0", lw=1.0, zorder=2)

# candles
closes = np.array(closes)
highs = np.array(highs)
lows = np.array(lows)
opens = np.r_[first_open, closes[:-1]]
idx = np.arange(len(closes))
up = closes >= opens
body_lo = np.minimum(opens, closes)
body_h = np.abs(closes - opens)
ax.vlines(idx, lows, highs, color="black", lw=0.8, zorder=4)
ax.bar(idx[up], body_h[up], bottom=body_lo[up], width=0.64, facecolor="white",
       edgecolor="black", linewidth=0.8, zorder=5)
ax.bar(idx[~up], body_h[~up], bottom=body_lo[~up], width=0.64, facecolor="black",
       edgecolor="black", linewidth=0.8, zorder=5)

# price tags on the right scale (MT4 hangs the tag mostly below its line)
trans = blended_transform_factory(ax.transAxes, ax.transData)
span = right_px - left_px
box_x = (right_px + 1 - left_px) / span
box_w = 80 / span
text_x = (3756 - left_px) / span
box_h = 23 * y_per_px
tags = [(current_price, "black", 11)] + [(p, c, 6) for p, c in zip(level_prices, level_colors)]
for p, c, above in tags:
    top = p + above * y_per_px
    ax.add_patch(Rectangle((box_x, top - box_h), box_w, box_h, transform=trans,
                           facecolor=c, edgecolor="none", clip_on=False, zorder=6))
    ax.text(text_x, top - box_h / 2, f"{p:.5f}", transform=trans, ha="left", va="center",
            color="white", fontsize=y_size, family=scale_font, clip_on=False, zorder=7)

# header and window decorations
fig.text(9 / W, 1 - 39 / H, "\u25bc", family="DejaVu Sans", fontsize=10, va="baseline")
fig.text(33 / W, 1 - 40 / H, header, family=scale_font, fontsize=head_size, va="baseline")
fig.add_artist(Rectangle((0, 1 - 3 / H), 1, 3 / H, transform=fig.transFigure,
                         facecolor="#a8a8a8", edgecolor="none"))
fig.add_artist(Rectangle((0, 0), 1, 4 / H, transform=fig.transFigure,
                         facecolor="#e0e0e0", edgecolor="none"))
shift_tr = blended_transform_factory(ax.transData, ax.transAxes)
ax.plot([len(closes) - 0.5], [1 - 3 / (bottom_px - top_px)], marker="v", markersize=9,
        color="#a0a0a0", transform=shift_tr, clip_on=False, zorder=8)

fig.savefig("out.png", dpi=100, facecolor="white")
